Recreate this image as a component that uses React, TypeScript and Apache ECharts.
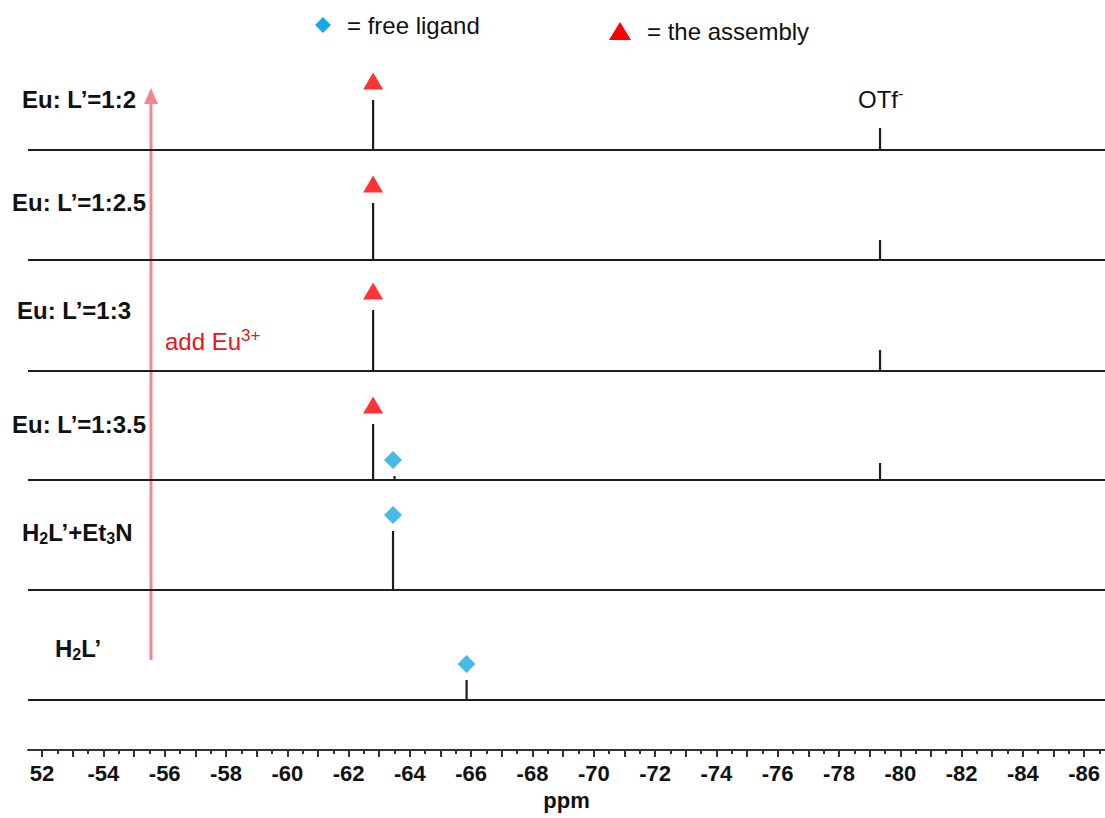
import React, { useEffect, useRef } from "react";
import * as echarts from "echarts";

// ---- data ----
const ppmRight = -86.68;
const ppmLeft = -51.54;
const tickMajor = [-52, -53, -54, -55, -56, -57, -58, -59, -60, -61, -62, -63, -64, -65, -66, -67, -68, -69, -70, -71, -72, -73, -74, -75, -76, -77, -78, -79, -80, -81, -82, -83, -84, -85, -86];
const tickMinor = [-52.5, -53.5, -54.5, -55.5, -56.5, -57.5, -58.5, -59.5, -60.5, -61.5, -62.5, -63.5, -64.5, -65.5, -66.5, -67.5, -68.5, -69.5, -70.5, -71.5, -72.5, -73.5, -74.5, -75.5, -76.5, -77.5, -78.5, -79.5, -80.5, -81.5, -82.5, -83.5, -84.5, -85.5, -86.5];
const tickLabels = [-52, -54, -56, -58, -60, -62, -64, -66, -68, -70, -72, -74, -76, -78, -80, -82, -84, -86];

const traceNames = ["Eu: L’=1:2", "Eu: L’=1:2.5", "Eu: L’=1:3", "Eu: L’=1:3.5", "H2L’+Et3N", "H2L’"];
// peaks: [ppm, intensity]
const peaks1: number[][] = [[-62.8, 50], [-79.34, 22]];
const peaks2: number[][] = [[-62.8, 57], [-79.34, 20]];
const peaks3: number[][] = [[-62.8, 61], [-79.34, 21]];
const peaks4: number[][] = [[-62.8, 56], [-63.5, 4], [-79.34, 17]];
const peaks5: number[][] = [[-63.45, 59]];
const peaks6: number[][] = [[-65.85, 20]];
const allPeaks = [peaks1, peaks2, peaks3, peaks4, peaks5, peaks6];

// assembly (triangle) markers: [trace index, ppm]
const assemblyMarks: number[][] = [[0, -62.8], [1, -62.8], [2, -62.8], [3, -62.8]];
// free-ligand (diamond) markers: [trace index, ppm]
const ligandMarks: number[][] = [[3, -63.45], [4, -63.45], [5, -65.85]];

// ---- layout (not data) ----
const baseOffsets = [600, 490, 379, 270, 160, 50];
const FONT = "'Liberation Sans', Arial, sans-serif";

function peakTop(trace: number, ppm: number): number {
  const pk = allPeaks[trace];
  let best = pk[0];
  for (const p of pk) if (Math.abs(p[0] - ppm) < Math.abs(best[0] - ppm)) best = p;
  return baseOffsets[trace] + best[1];
}

function traceData(trace: number): number[][] {
  const base = baseOffsets[trace];
  const sorted = [...allPeaks[trace]].sort((a, b) => b[0] - a[0]);
  const out: number[][] = [[ppmLeft, base]];
  for (const [p, h] of sorted) {
    out.push([p, base], [p, base + h], [p, base]);
  }
  out.push([ppmRight, base]);
  return out;
}

const labelPos = [
  [22, 99],
  [12, 202],
  [17, 310],
  [12, 424],
  [22, 532],
  [55, 648],
];

function richName(name: string): string {
  return name
    .replace("H2", "{b|H}{s|2}{b|")
    .replace("Et3", "Et}{s|3}{b|")
    .replace(/^(?!\{)/, "{b|") + "}";
}

export default function App() {
  const ref = useRef<HTMLDivElement>(null);
  useEffect(() => {
    document.body.style.margin = "0";
    const chart = echarts.init(ref.current!, undefined, { renderer: "svg" });

    const series: any[] = allPeaks.map((_, i) => ({
      type: "line",
      name: traceNames[i],
      data: traceData(i),
      showSymbol: false,
      symbol: "none",
      lineStyle: { color: "#1e1e1e", width: 2.2 },
      xAxisIndex: 0,
      yAxisIndex: 0,
      z: 2,
    }));
    series.push({
      type: "scatter",
      name: "the assembly",
      symbol: "triangle",
      symbolSize: [20, 17],
      itemStyle: { color: "#ff0000" },
      data: assemblyMarks.map(([t, p]) => [p, peakTop(t, p) + 19]),
      z: 3,
    });
    series.push({
      type: "scatter",
      name: "free ligand",
      symbol: "diamond",
      symbolSize: [18, 18],
      itemStyle: { color: "#18a8e4" },
      data: ligandMarks.map(([t, p]) => [p, peakTop(t, p) + 16]),
      z: 3,
    });

    const graphics: any[] = [];
    traceNames.forEach((n, i) => {
      graphics.push({
        type: "text",
        x: labelPos[i][0],
        y: labelPos[i][1],
        style: {
          text: richName(n),
          rich: {
            b: { font: `bold 24px ${FONT}`, fill: "#111", lineHeight: 28, verticalAlign: "middle" },
            s: { font: `bold 16px ${FONT}`, fill: "#111", lineHeight: 15, verticalAlign: "bottom" },
          },
          verticalAlign: "middle",
        },
      });
    });
    graphics.push({
      type: "text",
      x: 858,
      y: 99,
      style: {
        text: "{n|OTf}{p|-}",
        rich: {
          n: { font: `24px ${FONT}`, fill: "#111", lineHeight: 28 },
          p: { font: `16px ${FONT}`, fill: "#111", lineHeight: 12, verticalAlign: "top" },
        },
        verticalAlign: "middle",
      },
    });
    graphics.push({
      type: "line",
      shape: { x1: 151, y1: 660, x2: 151, y2: 100 },
      style: { stroke: "#f2878b", lineWidth: 3 },
      z: 1,
    });
    graphics.push({
      type: "polygon",
      shape: { points: [[151, 88], [144, 104], [158, 104]] },
      style: { fill: "#f2878b" },
    });
    graphics.push({
      type: "text",
      x: 165,
      y: 341,
      style: {
        text: "{n|add Eu}{p|3+}",
        rich: {
          n: { font: `24px ${FONT}`, fill: "#e8141c", lineHeight: 28 },
          p: { font: `17px ${FONT}`, fill: "#e8141c", lineHeight: 12, verticalAlign: "top" },
        },
        verticalAlign: "middle",
      },
    });
    graphics.push({
      type: "polygon",
      shape: { points: [[323, 17], [331, 25], [323, 33], [315, 25]] },
      style: { fill: "#18a8e4" },
    });
    graphics.push({
      type: "text",
      x: 347,
      y: 25,
      style: { text: "= free ligand", font: `24px ${FONT}`, fill: "#111", verticalAlign: "middle" },
    });
    graphics.push({
      type: "polygon",
      shape: { points: [[620, 22], [631, 40], [609, 40]] },
      style: { fill: "#ff0000" },
    });
    graphics.push({
      type: "text",
      x: 647,
      y: 31,
      style: { text: "= the assembly", font: `24px ${FONT}`, fill: "#111", verticalAlign: "middle" },
    });

    chart.setOption({
      animation: false,
      backgroundColor: "#ffffff",
      grid: { left: 28, right: 0, top: 0, bottom: 68, containLabel: false, outerBoundsMode: "none" },
      xAxis: [
        {
          type: "value",
          inverse: true,
          min: ppmRight,
          max: ppmLeft,
          position: "bottom",
          name: "ppm",
          nameLocation: "middle",
          nameGap: 39,
          nameTextStyle: { fontFamily: FONT, fontWeight: "bold", fontSize: 22, color: "#111" },
          axisLine: { show: true, lineStyle: { color: "#333", width: 2 } },
          axisTick: { show: true, length: 7, customValues: tickMajor, lineStyle: { color: "#333", width: 2 } },
          axisLabel: {
            show: true,
            customValues: tickLabels,
            margin: 12,
            fontFamily: FONT,
            fontWeight: "bold",
            fontSize: 22,
            color: "#111",
            formatter: (v: number) => (v === -52 ? "52" : String(v)),
          },
          splitLine: { show: false },
        },
        {
          type: "value",
          inverse: true,
          min: ppmRight,
          max: ppmLeft,
          position: "bottom",
          offset: 0,
          axisLine: { show: false },
          axisTick: { show: true, length: 4, customValues: tickMinor, lineStyle: { color: "#333", width: 2 } },
          axisLabel: { show: false },
          splitLine: { show: false },
        },
      ],
      yAxis: { type: "value", min: 0, max: 750, show: false },
      series,
      graphic: graphics,
    });
    return () => chart.dispose();
  }, []);
  return <div ref={ref} style={{ width: 1105, height: 818 }} />;
}
